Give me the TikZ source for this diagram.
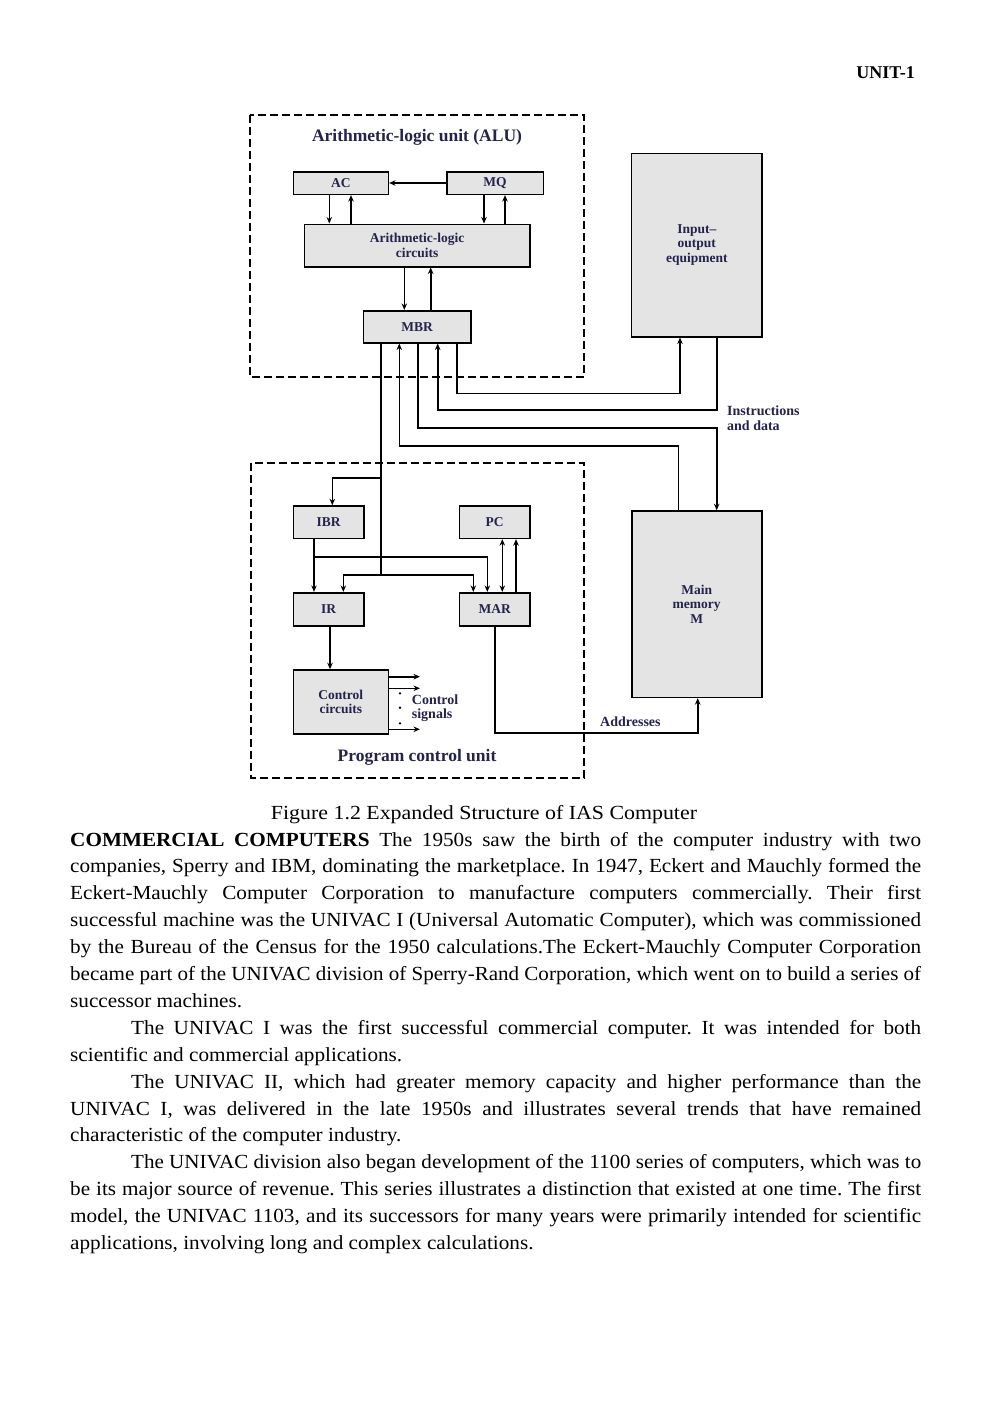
\documentclass[tikz,border=0pt]{standalone}
\usepackage{fontspec}
\setmainfont{Liberation Serif}
\newfontfamily\bodyfont[FakeStretch=1.06]{Liberation Serif}
\usepackage{graphicx}
\usetikzlibrary{arrows.meta}
\definecolor{boxgray}{RGB}{228,228,228}
\definecolor{lblue}{RGB}{35,35,75}
\newsavebox\jbox
\newcommand\jline[2]{\sbox\jbox{#2}\ifdim\wd\jbox<#1\relax\makebox[#1][s]{#2}\else\resizebox{#1}{\height}{#2}\fi}
\newcommand\fitw[2]{\resizebox{#1}{\height}{#2}}
\frenchspacing
\begin{document}
\frenchspacing
\begin{tikzpicture}[x=1pt,y=-1pt,
  box/.style={draw, fill=boxgray, line width=1.6pt, inner sep=0pt, text=lblue,
    font=\fontsize{13.5}{14.5}\selectfont\bfseries, align=center},
  lbl/.style={inner sep=0pt, text=lblue, font=\fontsize{14}{15}\selectfont\bfseries, align=left},
  title/.style={inner sep=0pt, text=lblue, font=\fontsize{17.5}{19}\selectfont\bfseries},
  conn/.style={line width=1.6pt},
  arr/.style={conn, -{Stealth[length=6.5pt,width=5.5pt]}},
  dbl/.style={conn, {Stealth[length=6.5pt,width=5.5pt]}-{Stealth[length=6.5pt,width=5.5pt]}},
  unitbox/.style={line width=1.6pt, dash pattern=on 8pt off 4pt},
  body/.style={inner sep=0pt, font=\bodyfont\fontsize{20}{24}\selectfont\frenchspacing}
]
\fill[white] (0,0) rectangle (992,1403);
\useasboundingbox (0,0) rectangle (992,1403);

% header
\node[anchor=base east, inner sep=0pt, font=\fontsize{18}{18}\selectfont\bfseries] (unit) at (915,78) {UNIT-1};

% dashed units
\draw[unitbox] (250,115) rectangle (584,377);
\draw[unitbox] (251,463) rectangle (584,778);
\node[title] (alut) at (417,137) {Arithmetic-logic unit (ALU)};
\node[title] (pcut) at (417,757) {Program control unit};

% boxes
\node[box, minimum width=95pt, minimum height=22.6pt] (AC) at (340.8,183) {AC};
\node[box, minimum width=96.6pt, minimum height=22.6pt] (MQ) at (495,183) {MQ};
\node[box, minimum width=225.7pt, minimum height=42.4pt] (ALC) at (417.2,245.5) {Arithmetic-logic\\circuits};
\node[box, minimum width=107.7pt, minimum height=32pt] (MBR) at (417.2,326.7) {MBR};
\node[box, minimum width=130.3pt, minimum height=183.4pt] (IO) at (696.8,245) {Input--\\output\\equipment};
\node[box, minimum width=130pt, minimum height=186.3pt] (MEM) at (696.7,604.2) {Main\\memory\\M};
\node[box, minimum width=70.7pt, minimum height=32.3pt] (IBR) at (328.7,522.2) {IBR};
\node[box, minimum width=70.7pt, minimum height=32.3pt] (PC) at (494.7,522.2) {PC};
\node[box, minimum width=70.7pt, minimum height=33pt] (IR) at (328.7,609.2) {IR};
\node[box, minimum width=70.7pt, minimum height=33pt] (MAR) at (494.7,609.2) {MAR};
\node[box, minimum width=95pt, minimum height=64pt] (CC) at (340.8,702) {Control\\circuits};

% helper columns and rows
\coordinate (cA1) at (329.3,0);  \coordinate (cA2) at (351,0);
\coordinate (cM1) at (484,0);    \coordinate (cM2) at (505,0);
\coordinate (cB1) at (404.3,0);  \coordinate (cB2) at (430.7,0);
\coordinate (m1) at (380.7,0);   \coordinate (m2) at (399.3,0);
\coordinate (m3) at (417.7,0);   \coordinate (m4) at (437.7,0);
\coordinate (m5) at (456.7,0);
\coordinate (io1) at (680,0);    \coordinate (io2) at (716.7,0);
\coordinate (mm1) at (678.3,0);  \coordinate (mm2) at (716.7,0);
\coordinate (h1) at (0,393.3);   \coordinate (h2) at (0,410);
\coordinate (h3) at (0,428);     \coordinate (h4) at (0,445.7);
\coordinate (b1) at (0,477.7);   \coordinate (b2) at (0,575);
\coordinate (b3) at (0,556.7);   \coordinate (h5) at (0,732.7);
\coordinate (xIBRin) at (332.3,0);  \coordinate (xIRin) at (343.3,0);
\coordinate (xMARin1) at (473.3,0); \coordinate (xMARin2) at (487.3,0);
\coordinate (xIBRout) at (314,0);   \coordinate (xIRout) at (330,0);
\coordinate (xPC1) at (502.3,0);    \coordinate (xPC2) at (516,0);
\coordinate (xMARout) at (495,0);   \coordinate (xAddr) at (697.7,0);
\coordinate (s1) at (0,676.7); \coordinate (s2) at (0,688.3); \coordinate (s3) at (0,729.3);
\coordinate (sx) at (420,0);

% ALU connectors
\draw[arr] (MQ.west) -- (AC.east);
\draw[arr] (cA1 |- AC.south) -- (cA1 |- ALC.north);
\draw[arr] (cA2 |- ALC.north) -- (cA2 |- AC.south);
\draw[arr] (cM1 |- MQ.south) -- (cM1 |- ALC.north);
\draw[arr] (cM2 |- ALC.north) -- (cM2 |- MQ.south);
\draw[arr] (cB1 |- ALC.south) -- (cB1 |- MBR.north);
\draw[arr] (cB2 |- MBR.north) -- (cB2 |- ALC.south);

% MBR <-> IO, memory
\draw[arr] (m5 |- MBR.south) |- (io1 |- h1) -- (io1 |- IO.south);
\draw[arr] (io2 |- IO.south) |- (m4 |- h2) -- (m4 |- MBR.south);
\draw[arr] (m3 |- MBR.south) |- (mm2 |- h3) -- (mm2 |- MEM.north);
\draw[arr] (mm1 |- MEM.north) |- (m2 |- h4) -- (m2 |- MBR.south);

% program control unit
\draw[conn] (m1 |- MBR.south) -- (m1 |- b2);
\draw[arr] (m1 |- b1) -| (xIBRin |- IBR.north);
\draw[arr] (m1 |- b2) -| (xIRin |- IR.north);
\draw[arr] (m1 |- b2) -| (xMARin1 |- MAR.north);
\draw[arr] (xIBRout |- IBR.south) -- (xIBRout |- IR.north);
\draw[arr] (xIBRout |- b3) -| (xMARin2 |- MAR.north);
\draw[dbl] (xPC1 |- MAR.north) -- (xPC1 |- PC.south);
\draw[arr] (xPC2 |- MAR.north) -- (xPC2 |- PC.south);
\draw[arr] (xIRout |- IR.south) -- (xIRout |- CC.north);
\draw[arr] (CC.east |- s1) -- (sx |- s1);
\draw[arr] (CC.east |- s2) -- (sx |- s2);
\draw[arr] (CC.east |- s3) -- (sx |- s3);
\fill (400,693.3) circle (1.3pt);
\fill (400,707.7) circle (1.3pt);
\fill (400,723.3) circle (1.3pt);
\draw[arr] (xMARout |- MAR.south) |- (xAddr |- h5) -- (xAddr |- MEM.south);

% labels
\node[lbl, anchor=base west] (instr) at (727,415) {Instructions};
\node[lbl, anchor=base west] (anddata) at (727,430.7) {and data};
\node[lbl, anchor=base west] (addr) at (600,726) {Addresses};
\node[lbl, anchor=base west] (csig1) at (411.7,704) {Control};
\node[lbl, anchor=base west] (csig2) at (411.7,718) {signals};

% caption and text
\node[body, anchor=base] (cap) at (484,819) {\fitw{426pt}{Figure 1.2 Expanded Structure of IAS Computer}};
\node[body, anchor=base west] (l1) at (70,846) {\jline{851pt}{\textbf{COMMERCIAL COMPUTERS} The 1950s saw the birth of the computer industry with two}};
\node[body, anchor=base west] (l2) at (70,872.9) {\jline{851pt}{companies, Sperry and IBM, dominating the marketplace. In 1947, Eckert and Mauchly formed the}};
\node[body, anchor=base west] (l3) at (70,899.8) {\jline{851pt}{Eckert-Mauchly Computer Corporation to manufacture computers commercially. Their first}};
\node[body, anchor=base west] (l4) at (70,926.7) {\jline{851pt}{successful machine was the UNIVAC I (Universal Automatic Computer), which was commissioned}};
\node[body, anchor=base west] (l5) at (70,953.6) {\jline{851pt}{by the Bureau of the Census for the 1950 calculations.The Eckert-Mauchly Computer Corporation}};
\node[body, anchor=base west] (l6) at (70,980.5) {\jline{851pt}{became part of the UNIVAC division of Sperry-Rand Corporation, which went on to build a series of}};
\node[body, anchor=base west] (l7) at (70,1007.4) {successor machines.};
\node[body, anchor=base west] (l8) at (131,1034.3) {\jline{790pt}{The UNIVAC I was the first successful commercial computer. It was intended for both}};
\node[body, anchor=base west] (l9) at (70,1061.2) {scientific and commercial applications.};
\node[body, anchor=base west] (l10) at (131,1088.1) {\jline{790pt}{The UNIVAC II, which had greater memory capacity and higher performance than the}};
\node[body, anchor=base west] (l11) at (70,1115.0) {\jline{851pt}{UNIVAC I, was delivered in the late 1950s and illustrates several trends that have remained}};
\node[body, anchor=base west] (l12) at (70,1141.9) {characteristic of the computer industry.};
\node[body, anchor=base west] (l13) at (131,1168.8) {\jline{790pt}{The UNIVAC division also began development of the 1100 series of computers, which was to}};
\node[body, anchor=base west] (l14) at (70,1195.7) {\jline{851pt}{be its major source of revenue. This series illustrates a distinction that existed at one time. The first}};
\node[body, anchor=base west] (l15) at (70,1222.6) {\jline{851pt}{model, the UNIVAC 1103, and its successors for many years were primarily intended for scientific}};
\node[body, anchor=base west] (l16) at (70,1249.5) {applications, involving long and complex calculations.};
\end{tikzpicture}
\end{document}
